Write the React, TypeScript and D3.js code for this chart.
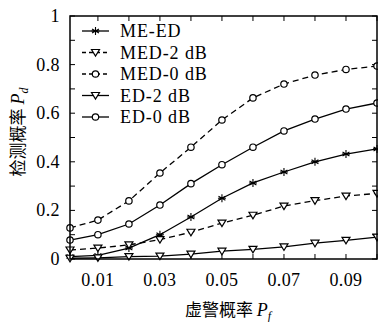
import React from 'react';
import * as d3 from 'd3';

const pf = [0.001, 0.01, 0.02, 0.03, 0.04, 0.05, 0.06, 0.07, 0.08, 0.09, 0.1];

const meEd = [0.01, 0.015, 0.045, 0.1, 0.173, 0.25, 0.313, 0.358, 0.4, 0.432, 0.453];
const med2 = [0.037, 0.045, 0.058, 0.08, 0.11, 0.148, 0.18, 0.218, 0.24, 0.259, 0.27];
const med0 = [0.128, 0.16, 0.239, 0.354, 0.46, 0.572, 0.663, 0.72, 0.757, 0.78, 0.794];
const ed2 = [0.003, 0.005, 0.01, 0.012, 0.02, 0.032, 0.04, 0.05, 0.065, 0.077, 0.09];
const ed0 = [0.078, 0.1, 0.144, 0.222, 0.31, 0.388, 0.46, 0.527, 0.576, 0.617, 0.642];

const xTickLabels = [0.01, 0.03, 0.05, 0.07, 0.09];
const yTickLabels = [0, 0.2, 0.4, 0.6, 0.8, 1];

type Marker = 'star' | 'tri' | 'circle';
const series: { name: string; values: number[]; dashed: boolean; marker: Marker }[] = [
  { name: 'ME-ED', values: meEd, dashed: false, marker: 'star' },
  { name: 'MED-2 dB', values: med2, dashed: true, marker: 'tri' },
  { name: 'MED-0 dB', values: med0, dashed: true, marker: 'circle' },
  { name: 'ED-2 dB', values: ed2, dashed: false, marker: 'tri' },
  { name: 'ED-0 dB', values: ed0, dashed: false, marker: 'circle' },
];

const W = 378;
const H = 322;
const left = 70;
const right = 377;
const top = 16;
const bottom = 259;
const serif = '"Liberation Serif", "DejaVu Serif", serif';
const cjk = '"Noto Sans CJK SC", sans-serif';

const MarkerShape: React.FC<{ type: Marker; x: number; y: number }> = ({ type, x, y }) => {
  if (type === 'circle') {
    return <circle cx={x} cy={y} r={3.2} fill="#fff" stroke="#000" strokeWidth={1.2} />;
  }
  if (type === 'tri') {
    const s = 4;
    return (
      <path
        d={`M${x - s},${y - s * 0.75}L${x + s},${y - s * 0.75}L${x},${y + s * 0.9}Z`}
        fill="#fff"
        stroke="#000"
        strokeWidth={1.2}
      />
    );
  }
  const r = 4;
  const arms = [0, 60, 120].map(a => {
    const t = (a * Math.PI) / 180 + Math.PI / 2;
    return `M${x - r * Math.cos(t)},${y - r * Math.sin(t)}L${x + r * Math.cos(t)},${y + r * Math.sin(t)}`;
  });
  return <path d={arms.join('') + `M${x - r},${y}L${x + r},${y}`} stroke="#000" strokeWidth={1.1} fill="none" />;
};

export default function App() {
  const x = d3.scaleLinear().domain([0.001, 0.1]).range([left, right]);
  const y = d3.scaleLinear().domain([0, 1]).range([bottom, top]);
  const line = d3.line<number>().x((_, i) => x(pf[i])).y(v => y(v));

  const xMinor = d3.range(1, 11).map(i => i / 100);
  const yMinor = d3.range(0, 11).map(i => i / 10);

  return (
    <svg width={W} height={H} style={{ position: 'absolute', left: 0, top: 0, background: '#fff' }}>
      <rect x={0} y={0} width={W} height={H} fill="#fff" />
      {/* ticks */}
      {xMinor.map(t => (
        <g key={'x' + t}>
          <line x1={x(t)} x2={x(t)} y1={bottom} y2={bottom - 5} stroke="#000" strokeWidth={1} />
          <line x1={x(t)} x2={x(t)} y1={top} y2={top + 5} stroke="#000" strokeWidth={1} />
        </g>
      ))}
      {yMinor.map(t => (
        <g key={'y' + t}>
          <line x1={left} x2={left + 5} y1={y(t)} y2={y(t)} stroke="#000" strokeWidth={1} />
          <line x1={right} x2={right - 5} y1={y(t)} y2={y(t)} stroke="#000" strokeWidth={1} />
        </g>
      ))}
      {xTickLabels.map(t => (
        <text key={'xl' + t} x={x(t)} y={286} textAnchor="middle" fontFamily={serif} fontSize={18} letterSpacing={0.4}>
          {t.toFixed(2)}
        </text>
      ))}
      {yTickLabels.map(t => (
        <text key={'yl' + t} x={60} y={y(t) + 6} textAnchor="end" fontFamily={serif} fontSize={18} letterSpacing={0.4}>
          {t === 0 || t === 1 ? String(t) : t.toFixed(1)}
        </text>
      ))}

      {/* series */}
      {series.map(s => (
        <g key={s.name}>
          <path
            d={line(s.values) || ''}
            fill="none"
            stroke="#000"
            strokeWidth={1.3}
            strokeDasharray={s.dashed ? '6,4' : undefined}
          />
          {s.values.map((v, i) => (
            <MarkerShape key={i} type={s.marker} x={x(pf[i])} y={y(v)} />
          ))}
        </g>
      ))}

      {/* frame */}
      <rect x={left} y={top} width={right - left} height={bottom - top} fill="none" stroke="#000" strokeWidth={1.5} />

      {/* legend */}
      {series.map((s, i) => {
        const ly = 31 + i * 21.5;
        return (
          <g key={'lg' + s.name}>
            <line x1={82} x2={109} y1={ly} y2={ly} stroke="#000" strokeWidth={1.3} strokeDasharray={s.dashed ? '4,3' : undefined} />
            <MarkerShape type={s.marker} x={95.5} y={ly} />
            <text x={120} y={ly + 6} fontFamily={serif} fontSize={18} letterSpacing={0.9}>
              {s.name}
            </text>
          </g>
        );
      })}

      {/* axis titles */}
      <text x={228} y={316} textAnchor="middle" fontSize={17}>
        <tspan fontFamily={cjk}>虚警概率 </tspan>
        <tspan fontFamily={serif} fontStyle="italic" fontSize={18}>P</tspan>
        <tspan fontFamily={serif} fontStyle="italic" fontSize={12} dy={4}>f</tspan>
      </text>
      <text transform={`translate(24,${132}) rotate(-90)`} textAnchor="middle" fontSize={17}>
        <tspan fontFamily={cjk}>检测概率 </tspan>
        <tspan fontFamily={serif} fontStyle="italic" fontSize={18}>P</tspan>
        <tspan fontFamily={serif} fontStyle="italic" fontSize={12} dy={4}>d</tspan>
      </text>
    </svg>
  );
}
